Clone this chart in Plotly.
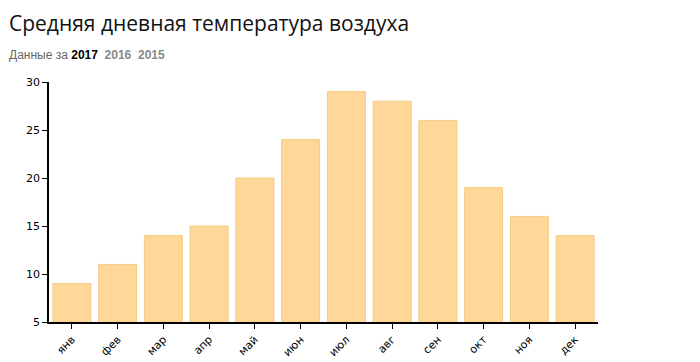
import plotly.graph_objects as go

months = ["янв", "фев", "мар", "апр", "май", "июн", "июл", "авг", "сен", "окт", "ноя", "дек"]
temps = [9, 11, 14, 15, 20, 24, 29, 28, 26, 19, 16, 14]
y_ticks = [5, 10, 15, 20, 25, 30]

# page body has an 8px default margin, so the figure is offset by (8, 8)
L, R, T, B = 41, 110, 74, 48
PW, PH = 700 - L - R, 362 - T - B

fig = go.Figure(go.Bar(
    x=months, y=temps,
    marker=dict(color="#FFD799", line=dict(color="#F4CA85", width=1)),
    hoverinfo="x+y",
))

fig.update_layout(
    width=700, height=362,
    margin=dict(l=L, r=R, t=T, b=B, autoexpand=False),
    plot_bgcolor="white", paper_bgcolor="white",
    bargap=0.17,
    showlegend=False,
    font=dict(family="DejaVu Sans", size=11, color="#000"),
)
fig.update_xaxes(
    automargin=False,
    showline=True, linecolor="#000", linewidth=1.5,
    ticks="outside", ticklen=5, tickcolor="#000",
    tickangle=-45, showgrid=False,
    tickfont=dict(family="DejaVu Sans", size=11, color="#000"),
)
fig.update_yaxes(
    automargin=False,
    range=[5, 30], tickvals=y_ticks,
    showline=True, linecolor="#000", linewidth=1.5,
    ticks="outside", ticklen=5, tickcolor="#000",
    showgrid=False, zeroline=False,
    tickfont=dict(family="DejaVu Sans", size=11, color="#000"),
)
fig.add_annotation(
    text="Средняя дневная температура воздуха",
    xref="paper", yref="paper", x=-L / PW, y=1 + T / PH,
    xanchor="left", yanchor="top", showarrow=False, borderpad=0,
    font=dict(family="Open Sans", size=21, color="#111"),
)
fig.add_annotation(
    text="Данные за <b style='color:#000'>2017</b>  <b style='color:#888'>2016</b>  <b style='color:#888'>2015</b>",
    xref="paper", yref="paper", x=-L / PW, y=1 + 27 / PH,
    xanchor="left", yanchor="middle", showarrow=False, borderpad=0,
    font=dict(family="Liberation Sans", size=12, color="#666"),
)

fig.write_html("out.html")
